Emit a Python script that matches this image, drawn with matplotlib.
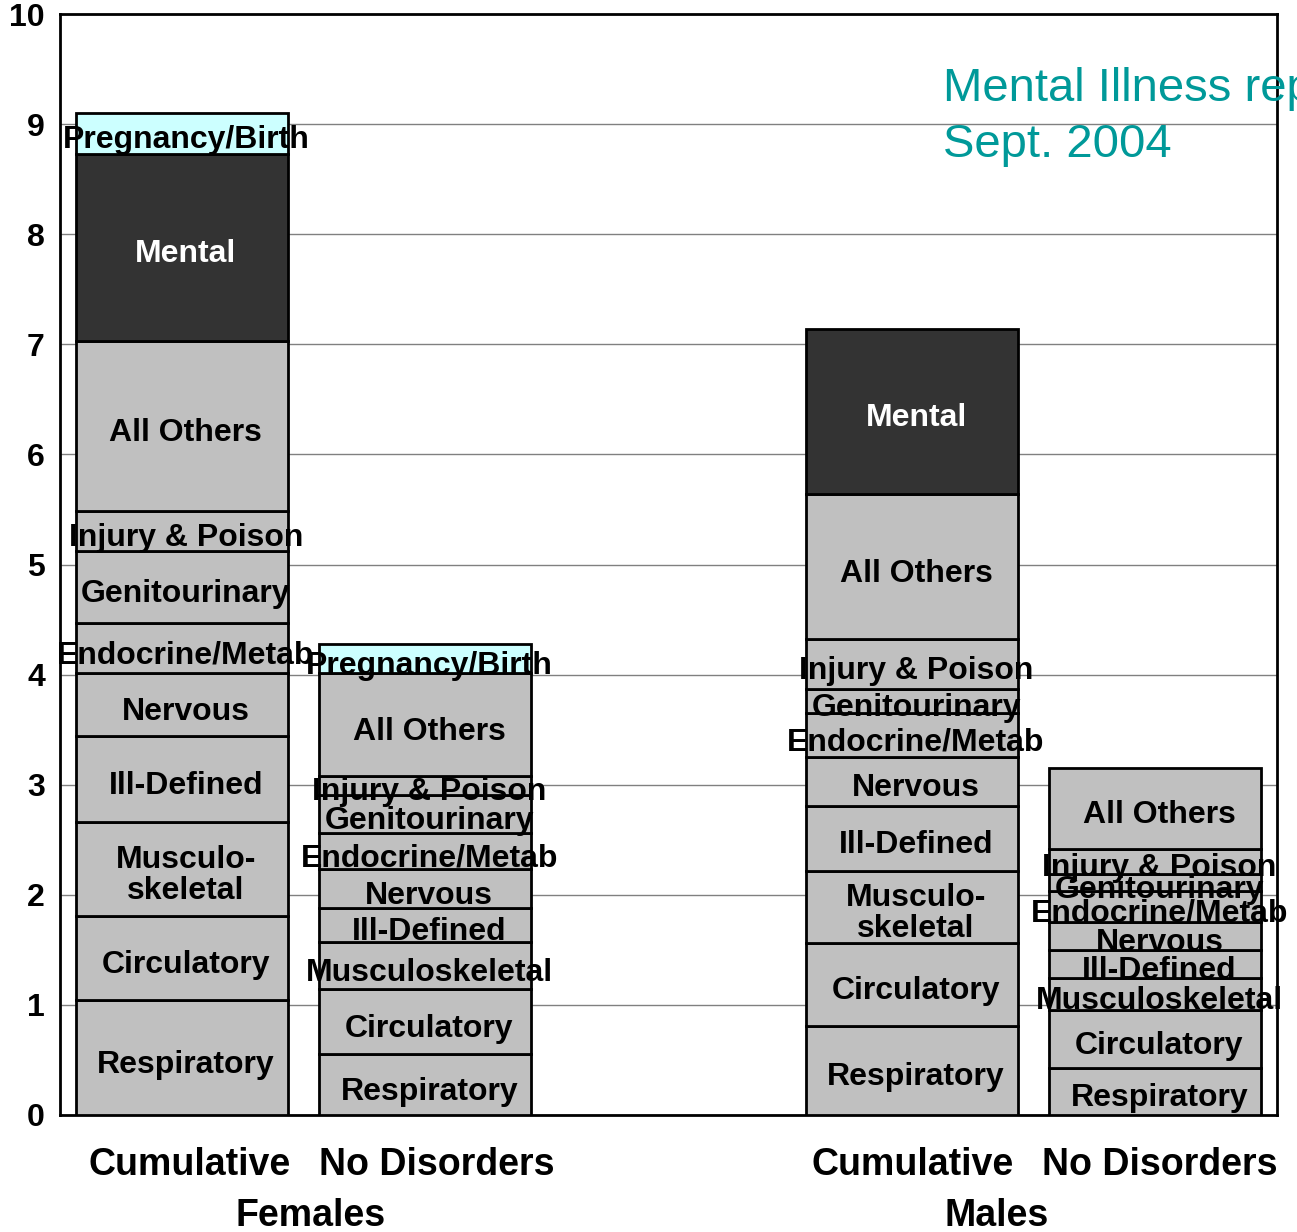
import matplotlib
matplotlib.use("Agg")
import matplotlib.pyplot as plt
from matplotlib.transforms import blended_transform_factory, offset_copy, ScaledTranslation

plt.rcParams['font.family'] = ['Liberation Sans', 'DejaVu Sans']

# ---- data ----
categories = ["Respiratory", "Circulatory", "Musculoskeletal", "Ill-Defined", "Nervous",
              "Endocrine/Metab", "Genitourinary", "Injury & Poison", "All Others",
              "Mental", "Pregnancy/Birth"]
bar_names = ["Cumulative", "No Disorders", "Cumulative", "No Disorders"]
groups = ["Females", "Males"]

females_cumulative = [1.04, 0.77, 0.85, 0.78, 0.57, 0.46, 0.65, 0.37, 1.54, 1.70, 0.37]
females_no_disorders = [0.55, 0.59, 0.43, 0.31, 0.35, 0.33, 0.35, 0.17, 0.93, 0.00, 0.27]
males_cumulative = [0.81, 0.75, 0.66, 0.59, 0.44, 0.40, 0.22, 0.45, 1.32, 1.50, 0.00]
males_no_disorders = [0.43, 0.52, 0.29, 0.26, 0.25, 0.28, 0.16, 0.23, 0.73, 0.00, 0.00]

labels_cumulative = ["Respiratory", "Circulatory", "Musculo-\nskeletal", "Ill-Defined", "Nervous",
                     "Endocrine/Metab", "Genitourinary", "Injury & Poison", "All Others",
                     "Mental", "Pregnancy/Birth"]
labels_no_disorders = ["Respiratory", "Circulatory", "Musculoskeletal", "Ill-Defined", "Nervous",
                       "Endocrine/Metab", "Genitourinary", "Injury & Poison", "All Others",
                       "Mental", "Pregnancy/Birth"]

title_lines = ["Mental Illness report", "Sept. 2004"]

# ---- styles ----
seg_colors = ["#C0C0C0"] * 9 + ["#333333", "#CCFFFF"]
text_colors = ["black"] * 9 + ["white", "black"]

series = [females_cumulative, females_no_disorders, males_cumulative, males_no_disorders]
seg_labels = [labels_cumulative, labels_no_disorders, labels_cumulative, labels_no_disorders]
positions = [0, 1, 3, 4]

fig = plt.figure(figsize=(12.97, 12.32), dpi=100)
ax = fig.add_axes([0.0463, 0.0950, 0.9383, 0.8936])

label_trans = offset_copy(ax.transData, fig=fig, x=3, y=-5, units="points")

for pos, vals, labs in zip(positions, series, seg_labels):
    bottom = 0.0
    for i, v in enumerate(vals):
        if v <= 0:
            continue
        ax.bar(pos, v, bottom=bottom, width=0.87, color=seg_colors[i],
               edgecolor="black", linewidth=2.0, zorder=3)
        ax.text(pos, bottom + v / 2, labs[i], ha="center", va="center",
                transform=label_trans,
                fontsize=23, fontweight="bold", color=text_colors[i],
                zorder=5, clip_on=False, linespacing=1.05)
        bottom += v

ax.set_xlim(-0.5, 4.5)
ax.set_ylim(0, 10)
ax.set_yticks(range(0, 11))
ax.set_yticklabels([str(i) for i in range(0, 11)], fontsize=23, fontweight="bold")
ax.tick_params(axis="y", length=0, pad=11)
ax.set_xticks(positions)
ax.set_xticklabels(bar_names, fontsize=27, fontweight="bold")
ax.tick_params(axis="x", length=0, pad=23)
for lbl, dx in zip(ax.get_xticklabels(), [8, 12, 1, 4]):
    lbl.set_transform(lbl.get_transform() + ScaledTranslation(dx / 100, 0, fig.dpi_scale_trans))
ax.yaxis.grid(True, color="#808080", linewidth=1.0, zorder=0)
ax.set_axisbelow(True)
for s in ax.spines.values():
    s.set_linewidth(2.0)
    s.set_color("black")

trans = blended_transform_factory(ax.transData, fig.transFigure)
ax.text(0.53, 1 - 1216 / 1232, groups[0], transform=trans, ha="center", va="center",
        fontsize=27, fontweight="bold")
ax.text(3.35, 1 - 1216 / 1232, groups[1], transform=trans, ha="center", va="center",
        fontsize=27, fontweight="bold")

fig.text(943 / 1297, 1 - 101 / 1232, title_lines[0], color="#009999", fontsize=34,
         ha="left", va="baseline")
fig.text(943 / 1297, 1 - 157 / 1232, title_lines[1], color="#009999", fontsize=34,
         ha="left", va="baseline")

fig.savefig("out.png", dpi=100)
